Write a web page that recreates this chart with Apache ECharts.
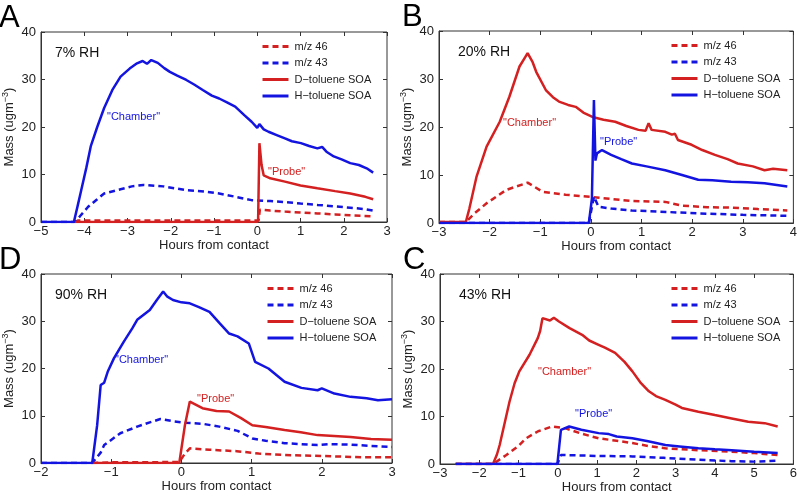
<!DOCTYPE html>
<html lang="en">
<head>
    <meta charset="UTF-8">
    <title>SOA mass vs hours from contact</title>
    <script src="https://cdn.jsdelivr.net/npm/echarts@6/dist/echarts.min.js"></script>
    <style>
        html, body { margin: 0; padding: 0; background: #fff; }
    </style>
</head>
<body>
    <div id="main" style="width: 800px;height:495px;"></div>
    <script type="text/javascript">
        // series names (legend order)
        var seriesNames = ['m/z 46', 'm/z 43', 'D\u2212toluene SOA', 'H\u2212toluene SOA']

        // ---- panel A, 7% RH ----
        var A_mz46 = [[-4.22, 0], [-4.15, 0.3], [-3, 0.3], [-1, 0.3], [0.03, 0.3], [0.06, 2.6], [0.3, 2.4], [0.64, 2.2], [1.0, 2.0], [1.39, 1.8], [1.8, 1.6], [2.15, 1.4], [2.68, 1.2]]
        var A_mz43 = [[-5, 0], [-4.22, 0], [-4.1, 1.2], [-3.91, 3.2], [-3.7, 4.8], [-3.54, 6.0], [-3.16, 6.9], [-2.9, 7.5], [-2.63, 7.8], [-2.17, 7.5], [-1.64, 6.7], [-1.2, 6.4], [-0.88, 6.0], [-0.5, 5.3], [-0.13, 4.6], [0.3, 4.4], [0.64, 4.2], [1.0, 3.9], [1.39, 3.6], [1.8, 3.3], [2.15, 3.0], [2.5, 2.7], [2.68, 2.4]]
        var A_dsoa = [[-4.22, 0], [0.0, 0], [0.02, 0.5], [0.05, 16.6], [0.1, 12], [0.15, 9.8], [0.3, 9.2], [0.64, 8.5], [1.0, 7.7], [1.39, 7.1], [1.8, 6.5], [2.15, 6.0], [2.5, 5.3], [2.68, 4.8]]
        var A_hsoa = [[-5, 0], [-4.24, 0], [-4.15, 3.5], [-4.07, 6.7], [-3.95, 11.5], [-3.85, 15.9], [-3.7, 20], [-3.54, 24], [-3.35, 27.8], [-3.16, 30.6], [-2.95, 32.3], [-2.78, 33.4], [-2.65, 33.9], [-2.55, 33.3], [-2.45, 34.1], [-2.3, 33.5], [-2.15, 32.4], [-2.02, 31.6], [-1.85, 30.8], [-1.64, 29.9], [-1.45, 28.9], [-1.26, 27.8], [-1.05, 26.6], [-0.88, 26.0], [-0.7, 25.2], [-0.51, 24.3], [-0.3, 22.5], [-0.13, 21.1], [0.0, 19.8], [0.05, 20.6], [0.15, 19.5], [0.26, 19.0], [0.45, 18.3], [0.64, 17.6], [0.8, 17.0], [1.01, 16.6], [1.2, 16.0], [1.39, 15.5], [1.5, 15.8], [1.6, 14.8], [1.77, 13.8], [1.95, 13.2], [2.15, 12.4], [2.35, 12.0], [2.53, 11.3], [2.68, 10.4]]

        // ---- panel B, 20% RH ----
        var B_mz46 = [[-3, 0.2], [-2.47, 0.2], [-2.3, 2], [-2.06, 4.1], [-1.67, 6.9], [-1.25, 8.4], [-0.95, 6.5], [-0.5, 5.9], [0.03, 5.4], [0.4, 5.0], [0.81, 4.6], [1.47, 4.4], [1.8, 3.6], [2.3, 3.3], [2.77, 3.2], [3.3, 2.9], [3.88, 2.6]]
        var B_mz43 = [[-3, 0], [-0.04, 0], [0.06, 5.5], [0.15, 3.4], [0.4, 3.0], [0.81, 2.6], [1.5, 2.3], [2.12, 2.0], [3.0, 1.7], [3.88, 1.5]]
        var B_dsoa = [[-3, 0.2], [-2.47, 0.2], [-2.4, 3], [-2.26, 9.6], [-2.06, 15.9], [-1.8, 21.1], [-1.61, 26.3], [-1.41, 32.6], [-1.3, 34.5], [-1.25, 35.4], [-1.15, 33.5], [-1.08, 31.5], [-0.89, 27.7], [-0.75, 26.2], [-0.63, 25.3], [-0.45, 24.6], [-0.3, 24.2], [-0.15, 23.0], [0.03, 22.1], [0.25, 21.5], [0.48, 21.1], [0.7, 20.2], [0.94, 19.4], [1.08, 19.2], [1.14, 20.8], [1.2, 19.4], [1.47, 19.0], [1.6, 18.4], [1.66, 18.6], [1.72, 17.3], [1.99, 16.3], [2.2, 15.2], [2.45, 14.2], [2.7, 13.3], [2.9, 12.4], [3.2, 11.8], [3.43, 11.0], [3.6, 11.3], [3.88, 11.0]]
        var B_hsoa = [[-3, 0], [-0.04, 0], [0.02, 5], [0.06, 25.6], [0.09, 13], [0.12, 14.5], [0.22, 15.2], [0.4, 14.2], [0.6, 13.3], [0.81, 12.4], [1.1, 11.8], [1.47, 11.0], [1.8, 10], [2.12, 9.0], [2.4, 8.9], [2.77, 8.6], [3.1, 8.5], [3.43, 8.3], [3.88, 7.6]]

        // ---- panel D, 90% RH ----
        var D_mz46 = [[-1.27, 0], [-1.0, 0.15], [-0.03, 0.2], [0.05, 2], [0.12, 3.1], [0.4, 2.8], [0.79, 2.5], [1.1, 2.0], [1.47, 1.7], [2.18, 1.4], [2.6, 1.2], [3.0, 1.2]]
        var D_mz43 = [[-2, 0], [-1.27, 0], [-1.15, 2.2], [-1.10, 3.8], [-0.87, 6.3], [-0.63, 7.7], [-0.45, 8.6], [-0.30, 9.3], [-0.1, 8.8], [0.07, 8.5], [0.3, 8.3], [0.54, 7.7], [0.8, 6.8], [1.01, 5.2], [1.2, 4.7], [1.47, 4.2], [1.94, 3.8], [2.1, 4.0], [2.41, 3.9], [2.7, 3.6], [3.0, 3.4]]
        var D_dsoa = [[-1.27, 0], [-0.03, 0], [0.05, 8], [0.12, 13.0], [0.3, 11.6], [0.5, 11.0], [0.68, 10.9], [0.85, 9.5], [1.01, 8.0], [1.2, 7.6], [1.47, 7.0], [1.7, 6.5], [1.94, 5.9], [2.41, 5.5], [2.7, 5.1], [3.0, 4.9]]
        var D_hsoa = [[-2, 0], [-1.27, 0], [-1.2, 8], [-1.15, 16.5], [-1.10, 17], [-1.05, 19.3], [-0.96, 22.2], [-0.82, 25.7], [-0.7, 28.5], [-0.63, 30.3], [-0.45, 32.4], [-0.35, 34.5], [-0.26, 36.3], [-0.2, 35.2], [-0.12, 34.5], [0.0, 34.0], [0.12, 33.8], [0.25, 33.0], [0.40, 32.0], [0.55, 29.5], [0.68, 27.4], [0.8, 26.8], [0.96, 25.3], [1.05, 21.4], [1.24, 20.0], [1.47, 17.2], [1.71, 15.9], [1.94, 15.4], [2.0, 15.8], [2.18, 14.7], [2.41, 14.0], [2.64, 13.7], [2.8, 13.3], [3.0, 13.5]]

        // ---- panel C, 43% RH ----
        var C_mz46 = [[-2.6, 0], [-1.65, 0], [-1.31, 1.9], [-1.0, 3.8], [-0.81, 5.4], [-0.5, 6.9], [-0.14, 7.9], [0.2, 7.5], [0.6, 6.4], [1.04, 5.4], [1.5, 4.9], [1.90, 4.4], [2.3, 3.8], [2.74, 3.3], [3.58, 2.9], [4.43, 2.6], [5.0, 2.3], [5.6, 1.9]]
        var C_mz43 = [[-2.6, 0], [-0.01, 0], [0.08, 1.9], [1.0, 1.7], [1.90, 1.6], [2.7, 1.3], [3.58, 0.9], [4.43, 0.6], [5.0, 0.5], [5.6, 0.7]]
        var C_dsoa = [[-2.6, 0], [-1.65, 0], [-1.55, 2], [-1.48, 4.0], [-1.23, 13.1], [-1.1, 17], [-0.98, 19.5], [-0.72, 23], [-0.51, 26.5], [-0.45, 28], [-0.39, 30.7], [-0.2, 30.2], [-0.1, 30.8], [0.03, 30.0], [0.3, 28.6], [0.62, 27.2], [0.8, 26.0], [1.04, 25.1], [1.2, 24.5], [1.46, 23.4], [1.7, 21.5], [1.90, 19.5], [2.1, 17.2], [2.32, 15.3], [2.5, 14.3], [2.74, 13.5], [3.0, 12.5], [3.16, 11.8], [3.58, 11.0], [4.0, 10.3], [4.43, 9.6], [4.85, 8.9], [5.27, 8.6], [5.6, 7.9]]
        var C_hsoa = [[-2.6, 0], [-0.01, 0], [0.08, 7.2], [0.29, 7.9], [0.6, 7.2], [1.04, 6.5], [1.3, 6.3], [1.5, 5.8], [1.90, 5.4], [2.3, 4.8], [2.74, 4.0], [3.1, 3.7], [3.58, 3.3], [4.0, 3.1], [4.43, 2.9], [5.0, 2.6], [5.6, 2.3]]

        // axis ranges per panel
        var xRanges = [[-5, 3], [-3, 4], [-2, 3], [-3, 6]]
        var yRange = [0, 40]
        var panelLetters = ['A', 'B', 'D', 'C']
        var rhLabels = ['7% RH', '20% RH', '90% RH', '43% RH']

        var RED = '#d42020'
        var BLUE = '#1414e0'
        var FONT = 'Liberation Sans, Arial, sans-serif'

        // layout of each panel (px)
        var grids = [
            { left: 36, top: 32, width: 351, height: 190 },
            { left: 439, top: 31, width: 357, height: 192 },
            { left: 36, top: 274, width: 356, height: 189 },
            { left: 440, top: 274, width: 356, height: 190 }
        ]
        var panelData = [
            [A_mz46, A_mz43, A_dsoa, A_hsoa],
            [B_mz46, B_mz43, B_dsoa, B_hsoa],
            [D_mz46, D_mz43, D_dsoa, D_hsoa],
            [C_mz46, C_mz43, C_dsoa, C_hsoa]
        ]

        function minusFmt(v) {
            return String(v).replace('-', '\u2212')
        }

        var xAxis = [], yAxis = [], series = [], legend = [], grid = []
        var tick = { inside: true, length: 4, lineStyle: { color: '#333' } }
        grids.forEach(function (g, i) {
            grid.push({ left: g.left, top: g.top, width: g.width, height: g.height, show: true, borderColor: '#333', borderWidth: 1 })
            xAxis.push({
                type: 'value', gridIndex: i, min: xRanges[i][0], max: xRanges[i][1], interval: 1,
                name: 'Hours from contact', nameLocation: 'middle', nameGap: 17,
                nameTextStyle: { color: '#222', fontSize: 13, fontFamily: FONT },
                axisLine: { show: true, onZero: false, lineStyle: { color: '#333' } },
                axisTick: tick,
                axisLabel: { color: '#222', fontSize: 13, fontFamily: FONT, margin: 3, formatter: minusFmt },
                splitLine: { show: false }
            })
            xAxis.push({
                type: 'value', gridIndex: i, position: 'top', min: xRanges[i][0], max: xRanges[i][1], interval: 1,
                axisLine: { show: false, onZero: false }, axisTick: tick,
                axisLabel: { show: false }, splitLine: { show: false }
            })
            yAxis.push({
                type: 'value', gridIndex: i, min: yRange[0], max: yRange[1], interval: 10,
                name: 'Mass (ugm{sup|\u22123})', nameLocation: 'middle', nameGap: 23,
                nameTextStyle: {
                    color: '#222', fontSize: 13, fontFamily: FONT,
                    rich: { sup: { fontSize: 9, verticalAlign: 'top', padding: [0, 0, 8, 0], fontFamily: FONT, color: '#222' } }
                },
                axisLine: { show: true, onZero: false, lineStyle: { color: '#333' } },
                axisTick: { show: true, inside: true, length: 4, lineStyle: { color: '#333' } },
                axisLabel: { color: '#222', fontSize: 13, fontFamily: FONT, margin: 5 },
                splitLine: { show: false }
            })
            yAxis.push({
                type: 'value', gridIndex: i, position: 'right', min: yRange[0], max: yRange[1], interval: 10,
                axisLine: { show: false, onZero: false }, axisTick: { show: true, inside: true, length: 4, lineStyle: { color: '#333' } },
                axisLabel: { show: false }, splitLine: { show: false }
            })
            panelData[i].forEach(function (d, k) {
                series.push({
                    name: seriesNames[k],
                    type: 'line',
                    xAxisIndex: i * 2,
                    yAxisIndex: i * 2,
                    symbol: 'none',
                    silent: true,
                    itemStyle: { color: k % 2 === 0 ? RED : BLUE },
                    lineStyle: { width: 2.5, type: k < 2 ? [6, 4] : 'solid', color: k % 2 === 0 ? RED : BLUE },
                    data: d
                })
            })
            legend.push({
                orient: 'vertical',
                left: g.left + g.width - 126,
                top: g.top + 9,
                itemWidth: 26,
                itemHeight: 10,
                itemGap: 5.5,
                padding: 0,
                selectedMode: false,
                itemStyle: { color: 'transparent', borderWidth: 0 },
                lineStyle: { width: 3 },
                textStyle: { color: '#222', fontSize: 11, fontFamily: FONT, padding: [0, 0, 0, 1] },
                data: seriesNames
            })
        })

        // text annotations
        var notes = [
            { x: 107, y: 118, t: '"Chamber"', c: BLUE },
            { x: 268, y: 173, t: '"Probe"', c: RED },
            { x: 503, y: 124, t: '"Chamber"', c: RED },
            { x: 600, y: 143, t: '"Probe"', c: BLUE },
            { x: 115, y: 361, t: '"Chamber"', c: BLUE },
            { x: 197, y: 400, t: '"Probe"', c: RED },
            { x: 538, y: 373, t: '"Chamber"', c: RED },
            { x: 575, y: 415, t: '"Probe"', c: BLUE }
        ]
        var graphic = []
        notes.forEach(function (n) {
            graphic.push({ type: 'text', left: n.x, top: n.y - 7, style: { text: n.t, fill: n.c, font: '11px ' + FONT } })
        })
        grids.forEach(function (g, i) {
            graphic.push({ type: 'text', left: g.left + 19, top: g.top + 14, style: { text: rhLabels[i], fill: '#111', font: '14px ' + FONT } })
            graphic.push({ type: 'text', left: g.left - 37, top: g.top - 29, style: { text: panelLetters[i], fill: '#000', font: '31px ' + FONT } })
        })

        var myChart = echarts.init(document.getElementById('main'))
        var option = {
            backgroundColor: '#fff',
            animation: false,
            grid: grid,
            xAxis: xAxis,
            yAxis: yAxis,
            legend: legend,
            graphic: graphic,
            series: series
        }
        myChart.setOption(option)
    </script>
</body>
</html>
